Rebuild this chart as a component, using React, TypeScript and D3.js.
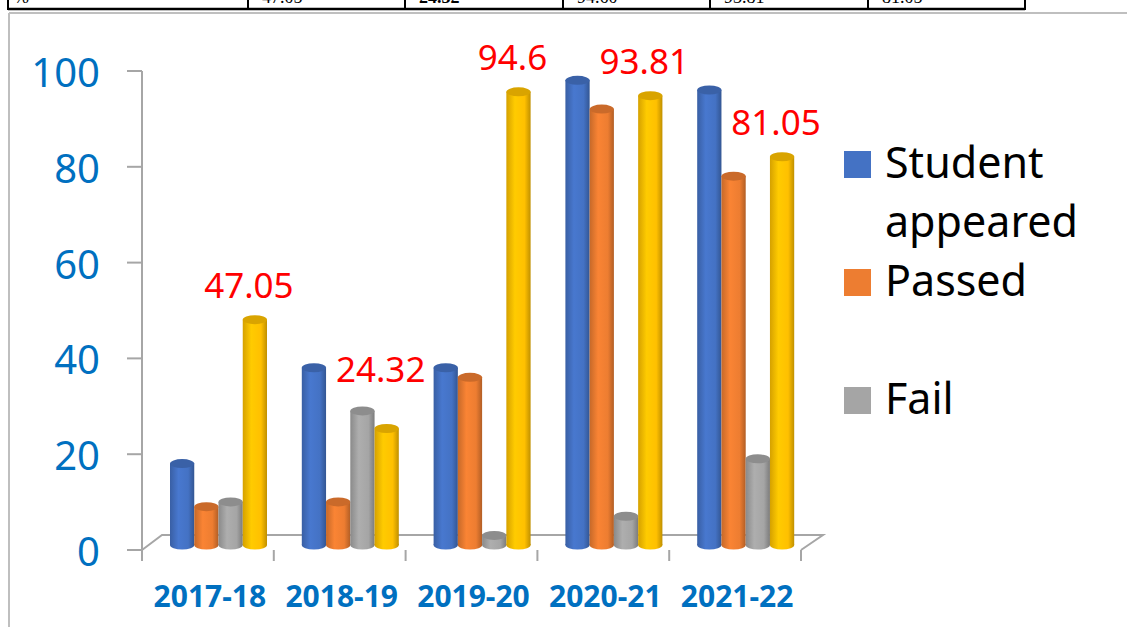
import React, { useEffect, useRef } from 'react';
import * as d3 from 'd3';

const years = ['2017-18', '2018-19', '2019-20', '2020-21', '2021-22'];
const seriesKeys = ['appeared', 'passed', 'fail', 'pct'];
const appeared = [17, 37, 37, 97, 95];
const passed = [8, 9, 35, 91, 77];
const failed = [9, 28, 2, 6, 18];
const passPct = [47.05, 24.32, 94.6, 93.81, 81.05];
const yTicks = [0, 20, 40, 60, 80, 100];
const legendItems = [['Student', 'appeared'], ['Passed'], ['', 'Fail']];
const tableRow = ['%', '47.05', '24.32', '94.60', '93.81', '81.05'];
const tableCols = [8, 248, 405, 563, 710, 868, 1025];

const colors = ['#4472C4', '#ED7D31', '#A5A5A5', '#FFC000'];

function App() {
  const ref = useRef<SVGSVGElement>(null);

  useEffect(() => {
    const W = 1127, H = 627;
    const svg = d3.select(ref.current).attr('width', W).attr('height', H);
    svg.selectAll('*').remove();

    const defs = svg.append('defs');
    colors.forEach((c, i) => {
      const g = defs.append('linearGradient').attr('id', 'cyl' + i)
        .attr('x1', '0').attr('x2', '1').attr('y1', '0').attr('y2', '0');
      const base = d3.color(c)!;
      g.append('stop').attr('offset', '0%').attr('stop-color', base.darker(0.5).toString());
      g.append('stop').attr('offset', '35%').attr('stop-color', base.brighter(0.15).toString());
      g.append('stop').attr('offset', '75%').attr('stop-color', c);
      g.append('stop').attr('offset', '100%').attr('stop-color', base.darker(0.8).toString());
    });

    // table remnant at the top of the page (cut off by the page edge)
    svg.append('line').attr('x1', 8).attr('x2', 1025).attr('y1', 9).attr('y2', 9)
      .attr('stroke', '#000').attr('stroke-width', 2.5);
    tableCols.forEach(x => {
      svg.append('line').attr('x1', x).attr('x2', x).attr('y1', 0).attr('y2', 10)
        .attr('stroke', '#000').attr('stroke-width', 2);
    });
    tableRow.forEach((t, i) => {
      svg.append('text').attr('x', tableCols[i] + (i === 0 ? 6 : 14)).attr('y', 3)
        .attr('font-family', 'Liberation Serif').attr('font-size', 18)
        .attr('font-weight', i === 2 ? 'bold' : 'normal').text(t);
    });

    // chart frame
    svg.append('line').attr('x1', 9).attr('x2', W).attr('y1', 13).attr('y2', 13)
      .attr('stroke', '#bfbfbf').attr('stroke-width', 2);
    svg.append('line').attr('x1', 9).attr('x2', 9).attr('y1', 13).attr('y2', H)
      .attr('stroke', '#bfbfbf').attr('stroke-width', 2);

    const y = d3.scaleLinear().domain([0, 100]).range([550, 71]);
    const x = d3.scaleBand().domain(years).range([142, 801]).padding(0);
    const inner = d3.scaleBand().domain(seriesKeys).range([28, 125]).padding(0);
    const depth = 5;
    const axisColor = '#a6a6a6';

    // floor
    const floor = d3.path();
    floor.moveTo(142, 550);
    floor.lineTo(162, 535);
    floor.lineTo(823, 535);
    floor.lineTo(801, 550);
    svg.append('path').attr('d', floor.toString()).attr('fill', 'none')
      .attr('stroke', axisColor).attr('stroke-width', 2);

    // y axis
    svg.append('line').attr('x1', 142).attr('x2', 142).attr('y1', y(100)).attr('y2', y(0))
      .attr('stroke', axisColor).attr('stroke-width', 2);
    yTicks.forEach(t => {
      svg.append('line').attr('x1', 127).attr('x2', 142).attr('y1', y(t)).attr('y2', y(t))
        .attr('stroke', axisColor).attr('stroke-width', 2);
      svg.append('text').attr('x', 100).attr('y', y(t) + 16)
        .attr('text-anchor', 'end').attr('fill', '#0070C0')
        .attr('font-family', 'Noto Sans').attr('font-size', 40).text(t);
    });

    // x axis ticks + labels
    const xEdges = years.map(d => x(d)!).concat([x(years[years.length - 1])! + x.bandwidth()]);
    xEdges.forEach(e => {
      svg.append('line').attr('x1', e).attr('x2', e).attr('y1', 550).attr('y2', 561)
        .attr('stroke', axisColor).attr('stroke-width', 2);
    });
    years.forEach(d => {
      svg.append('text').attr('x', x(d)! + x.bandwidth() / 2 + 2).attr('y', 607)
        .attr('text-anchor', 'middle').attr('fill', '#0070C0')
        .attr('font-family', 'Noto Sans').attr('font-weight', 'bold')
        .attr('font-size', 30).text(d);
    });

    // cylinders
    const values = [appeared, passed, failed, passPct];
    const bw = inner.bandwidth();
    years.forEach((d, i) => {
      seriesKeys.forEach((k, s) => {
        const v = values[s][i];
        const x0 = x(d)! + inner(k)!;
        const cx = x0 + bw / 2;
        const yb = y(0) - depth;
        const yt = y(v) - depth;
        const ry = 4.5;
        const g = svg.append('g');
        g.append('ellipse').attr('cx', cx).attr('cy', yb).attr('rx', bw / 2).attr('ry', ry)
          .attr('fill', `url(#cyl${s})`);
        g.append('rect').attr('x', x0).attr('y', yt).attr('width', bw).attr('height', yb - yt)
          .attr('fill', `url(#cyl${s})`);
        g.append('ellipse').attr('cx', cx).attr('cy', yt).attr('rx', bw / 2).attr('ry', ry)
          .attr('fill', d3.color(colors[s])!.darker(0.45).toString());
      });
    });

    // pass % labels
    years.forEach((d, i) => {
      const x0 = x(d)! + inner('pct')!;
      const top = Math.max(passPct[i], failed[i] + 1.5);
      svg.append('text').attr('x', x0 + bw / 2 - 6).attr('y', y(top) - depth - 22)
        .attr('text-anchor', 'middle').attr('fill', '#FF0000')
        .attr('font-family', 'Noto Sans').attr('font-size', 35).text(passPct[i]);
    });

    // legend
    const lineH = 59;
    let line = 0;
    legendItems.forEach((item, s) => {
      const first = item.findIndex(t => t !== '');
      item.forEach((t, j) => {
        if (t) {
          svg.append('text').attr('x', 885).attr('y', 178 + (line + j) * lineH)
            .attr('font-family', 'Noto Sans').attr('font-size', 43).attr('fill', '#000').text(t);
        }
      });
      svg.append('rect').attr('x', 844).attr('y', 178 + (line + first) * lineH - 27)
        .attr('width', 27).attr('height', 27).attr('fill', colors[s]);
      line += item.length;
    });
  }, []);

  return <svg ref={ref} style={{ position: 'absolute', left: 0, top: 0 }}></svg>;
}

export default App;
